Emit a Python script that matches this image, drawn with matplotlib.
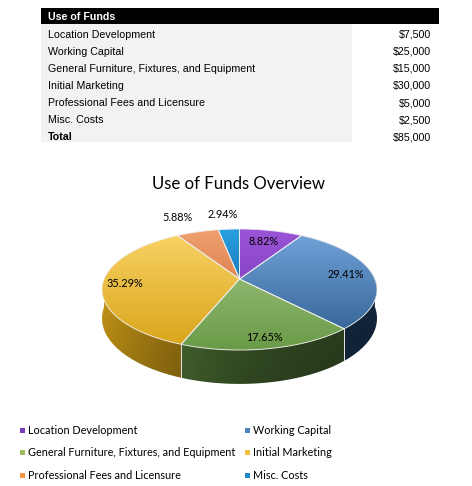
import numpy as np
import matplotlib
matplotlib.use("Agg")
import matplotlib.pyplot as plt
from matplotlib.patches import Polygon, Rectangle
from matplotlib.colors import to_rgb

# ---------------- data ----------------
table_title = "Use of Funds"
categories = ["Location Development", "Working Capital",
              "General Furniture, Fixtures, and Equipment", "Initial Marketing",
              "Professional Fees and Licensure", "Misc. Costs"]
amounts = [7500, 25000, 15000, 30000, 5000, 2500]
total_label = "Total"
chart_title = "Use of Funds Overview"

# ---------------- style ----------------
light_cols = ["#9a55d6", "#74a6dc", "#a8cc88", "#fad468", "#f0a070", "#2aa0e0"]
dark_cols = ["#7030b0", "#2c5a8c", "#6a9a48", "#d8a418", "#c8602a", "#004a88"]
legend_cols = ["#7a3cbf", "#4f81bd", "#9bbb59", "#f0c040", "#f79646", "#1f86c8"]

W, H = 472, 486
fig = plt.figure(figsize=(W / 100, H / 100), dpi=100)
ax = fig.add_axes([0, 0, 1, 1])
ax.set_xlim(0, W)
ax.set_ylim(H, 0)
ax.axis("off")

TF = ["Liberation Sans", "Arial", "DejaVu Sans"]
CF = ["Lato", "DejaVu Sans"]

# ---------------- table ----------------
tx0, tx1, tgray = 41, 439, 352
ax.add_patch(Rectangle((tx0, 8), tx1 - tx0, 16, color="black", lw=0))
ax.text(48, 16.5, table_title, color="white", fontsize=7.7, fontweight="bold",
        family=TF, va="center", ha="left")
row_y0, row_dy = 34.5, 17.15
ax.add_patch(Rectangle((tx0, 24), tgray - tx0, 118, color="#f2f2f2", lw=0))
total = sum(amounts)
labels = categories + [total_label]
vals = amounts + [total]
for i, (lab, v) in enumerate(zip(labels, vals)):
    y = row_y0 + i * row_dy
    bold = (lab == total_label)
    ax.text(48, y, lab, fontsize=7.7, family=TF, va="center", ha="left",
            fontweight="bold" if bold else "normal", color="black")
    ax.text(431, y, "${:,.0f}".format(v), fontsize=7.7, family=TF, va="center",
            ha="right", color="black")

# ---------------- title ----------------
ax.text(238.5, 184, chart_title, fontsize=12.1, family=CF, ha="center",
        va="center", color="black")

# ---------------- 3D pie ----------------
cx, cy = 239.5, 279.0
A, B, k = 135.4, 58.7, 0.1736
d0 = 28.0
top_y, bot_y = cy - B / (1 + k), cy + B / (1 - k)


def proj(r, theta):
    # theta: degrees clockwise from 12 o'clock
    t = np.radians(theta)
    u = r * np.sin(t)
    v = r * np.cos(t)
    den = 1 + k * v
    return cx + A * u / den, cy - B * v / den, den


fr = np.array(amounts) / total
starts = np.concatenate([[0], np.cumsum(fr)[:-1]]) * 360
ends = np.cumsum(fr) * 360

# sides (front half only), shaded by horizontal position
xs = np.linspace(cx - A * 1.05, cx + A * 1.05, 300)
uu = np.clip((xs - cx) / (A * 1.0155), -1, 1)
shade = 0.42 + 0.5 * ((1 - uu) / 2) ** 2
vert = np.linspace(1.0, 0.85, 60).reshape(-1, 1)
for i in range(len(amounts)):
    a0, a1 = max(starts[i], 90), min(ends[i], 270)
    if a1 <= a0:
        continue
    th = np.linspace(a0, a1, max(int((a1 - a0) * 2), 3))
    topp = [proj(1, t) for t in th]
    pts = [(x, y) for x, y, _ in topp] + [(x, y + d0 / dn) for x, y, dn in topp[::-1]]
    poly = Polygon(pts, closed=True, facecolor="none", edgecolor="none")
    ax.add_patch(poly)
    base = np.array(to_rgb(dark_cols[i]))
    img = np.clip(base[None, None, :] * shade[None, :, None] * vert[:, :, None], 0, 1)
    im = ax.imshow(img, extent=(xs[0], xs[-1], bot_y + d0 / (1 - k) + 4, top_y + 40),
                   aspect="auto", interpolation="bilinear", zorder=1)
    im.set_clip_path(poly)
    for a in (starts[i], ends[i]):
        if 90 < a < 270:
            x, y, dn = proj(1, a)
            ax.plot([x, x], [y, y + d0 / dn], color="#e8e8e8", lw=0.7, alpha=0.8,
                    zorder=1.5)

# tops with vertical gradient
grad = np.linspace(0, 1, 200).reshape(-1, 1)
for i in range(len(amounts)):
    th = np.linspace(starts[i], ends[i], max(int((ends[i] - starts[i]) * 2), 3))
    pts = [(cx, cy)] + [proj(1, t)[:2] for t in th]
    poly = Polygon(pts, closed=True, facecolor="none", edgecolor="none")
    ax.add_patch(poly)
    c1 = np.array(to_rgb(light_cols[i]))
    c2 = np.array(to_rgb(dark_cols[i]))
    img = c1[None, None, :] * (1 - grad[:, :, None]) + c2[None, None, :] * grad[:, :, None]
    im = ax.imshow(img, extent=(cx - A * 1.1, cx + A * 1.1, bot_y, top_y),
                   aspect="auto", interpolation="bilinear", zorder=2)
    im.set_clip_path(poly)
    ax.add_patch(Polygon(pts, closed=True, facecolor="none", edgecolor="#f0f0f0",
                         lw=0.7, alpha=0.85, zorder=3))

# data labels
label_r = [0.74, 0.80, 0.86, 0.84, 1.22, 1.22]
label_dx = [0, 0, 0, 0, -12, -4]
label_dy = [0, 0, 0, 0, -6, -6]
for i in range(len(amounts)):
    mid = (starts[i] + ends[i]) / 2
    x, y, _ = proj(label_r[i], mid)
    ax.text(x + label_dx[i], y + label_dy[i], "{:.2f}%".format(fr[i] * 100),
            fontsize=7.8, family=CF, ha="center", va="center", color="black",
            zorder=5)

# ---------------- legend ----------------
leg_x = [22, 247]
leg_y = [430, 452, 475]
for i, lab in enumerate(categories):
    col, row = i % 2, i // 2
    x, y = leg_x[col], leg_y[row]
    ax.add_patch(Rectangle((x - 2.5, y - 2.5), 5, 5, color=legend_cols[i], lw=0,
                           zorder=4))
    ax.text(x + 6, y, lab, fontsize=7.8, family=CF, ha="left", va="center",
            color="black")

fig.savefig("out.png", dpi=100)
